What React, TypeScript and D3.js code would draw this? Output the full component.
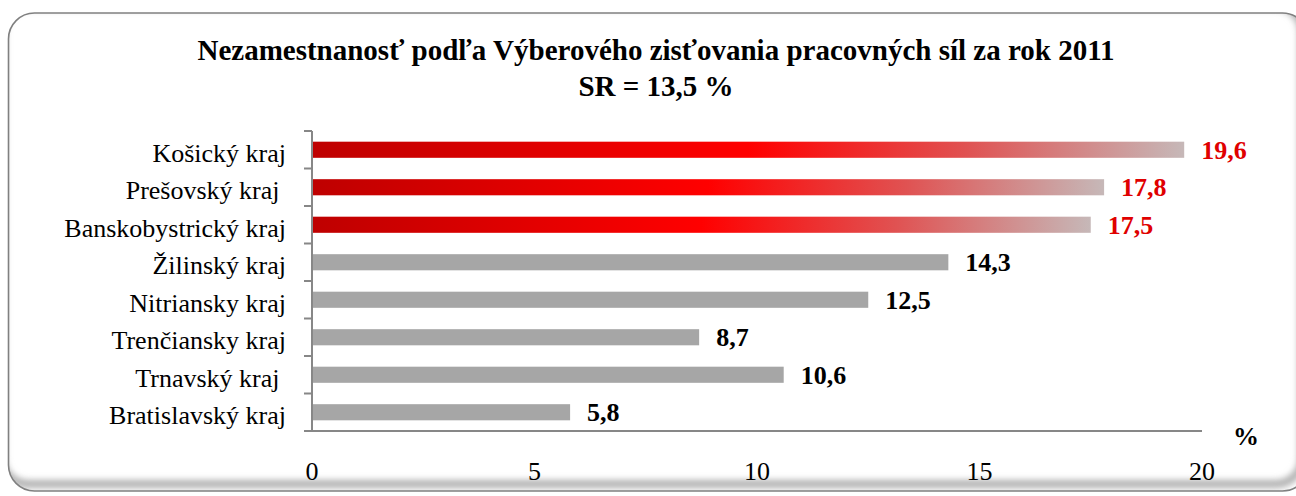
import React from 'react';
import * as d3 from 'd3';

// regions, top to bottom as drawn
const categories = [
  'Košický kraj',
  'Prešovský kraj ',
  'Banskobystrický kraj',
  'Žilinský kraj',
  'Nitriansky kraj',
  'Trenčiansky kraj',
  'Trnavský kraj ',
  'Bratislavský kraj',
];
const values = [19.6, 17.8, 17.5, 14.3, 12.5, 8.7, 10.6, 5.8];
const highlighted = ['Košický kraj', 'Prešovský kraj ', 'Banskobystrický kraj'];
const xTicks = [0, 5, 10, 15, 20];
const titleLines = [
  'Nezamestnanosť podľa Výberového zisťovania pracovných síl za rok 2011',
  'SR = 13,5 %',
];
const unitLabel = '%';

const W = 1296;
const H = 496;
const FONT = '"Liberation Serif", "Times New Roman", serif';

export default function App() {
  const data = categories.map((c, i) => ({ name: c, value: values[i] }));

  const x = d3.scaleLinear().domain([0, 20]).range([312, 1202]);
  const y = d3
    .scaleBand<string>()
    .domain(categories)
    .range([131, 431])
    .paddingInner(0.57)
    .paddingOuter(0.285);

  const step = y.step();
  const top = 131;
  const bottom = 431;
  const axisColor = '#878787';

  return (
    <svg
      width={W}
      height={H}
      style={{ position: 'absolute', left: 0, top: 0, fontFamily: FONT }}
    >
      <defs>
        <linearGradient id="redGrad" x1="0" y1="0" x2="1" y2="0">
          <stop offset="0" stopColor="#BE0000" />
          <stop offset="0.5" stopColor="#FF0000" />
          <stop offset="0.75" stopColor="#E05252" />
          <stop offset="1" stopColor="#C6B8B8" />
        </linearGradient>
        <clipPath id="frameClip">
          <rect x={8.5} y={13} width={1300} height={478} rx={26} />
        </clipPath>
        <filter id="blur" x="-5%" y="-5%" width="110%" height="110%">
          <feGaussianBlur stdDeviation="3" />
        </filter>
      </defs>

      {/* frame with soft inner shadow on the bottom/right */}
      <rect x={8.5} y={13} width={1300} height={478} rx={26} fill="#fff" />
      <g clipPath="url(#frameClip)">
        <rect
          x={2}
          y={6}
          width={1300}
          height={478}
          rx={26}
          fill="none"
          stroke="#b0b0b0"
          strokeWidth={8}
          filter="url(#blur)"
        />
      </g>
      <rect
        x={8.5}
        y={13}
        width={1300}
        height={478}
        rx={26}
        fill="none"
        stroke="#808080"
        strokeWidth={1.6}
      />

      {/* title */}
      {titleLines.map((t, i) => (
        <text
          key={i}
          x={656}
          y={60 + i * 36}
          textAnchor="middle"
          fontSize={29}
          fontWeight="bold"
          fill="#000"
        >
          {t}
        </text>
      ))}

      {/* bars */}
      {data.map((d) => {
        const hi = highlighted.includes(d.name);
        return (
          <rect
            key={d.name}
            x={x(0)}
            y={y(d.name)}
            width={x(d.value) - x(0)}
            height={y.bandwidth()}
            fill={hi ? 'url(#redGrad)' : '#A6A6A6'}
          />
        );
      })}

      {/* value labels */}
      {data.map((d) => {
        const hi = highlighted.includes(d.name);
        return (
          <text
            key={d.name}
            x={x(d.value) + 17}
            y={(y(d.name) as number) + y.bandwidth() / 2}
            dy="0.35em"
            fontSize={26}
            fontWeight="bold"
            fill={hi ? '#E00000' : '#000'}
          >
            {d3.format('.1f')(d.value).replace('.', ',')}
          </text>
        );
      })}

      {/* y axis */}
      <line x1={312} x2={312} y1={top} y2={bottom} stroke={axisColor} strokeWidth={2} />
      {d3.range(categories.length + 1).map((i) => (
        <line
          key={i}
          x1={304}
          x2={312}
          y1={top + i * step}
          y2={top + i * step}
          stroke={axisColor}
          strokeWidth={2}
        />
      ))}
      {categories.map((c) => (
        <text
          key={c}
          x={286}
          y={(y(c) as number) + y.bandwidth() / 2 + 12}
          textAnchor="end"
          fontSize={26}
          fill="#000"
          style={{ whiteSpace: 'pre' }}
        >
          {c}
        </text>
      ))}

      {/* x axis */}
      <line x1={304} x2={x(20)} y1={bottom} y2={bottom} stroke={axisColor} strokeWidth={2} />
      {xTicks.map((t) => (
        <text key={t} x={x(t)} y={480} textAnchor="middle" fontSize={26} fill="#000">
          {t}
        </text>
      ))}
      <text x={1233} y={445} fontSize={26} fontWeight="bold" fill="#000">
        {unitLabel}
      </text>
    </svg>
  );
}
